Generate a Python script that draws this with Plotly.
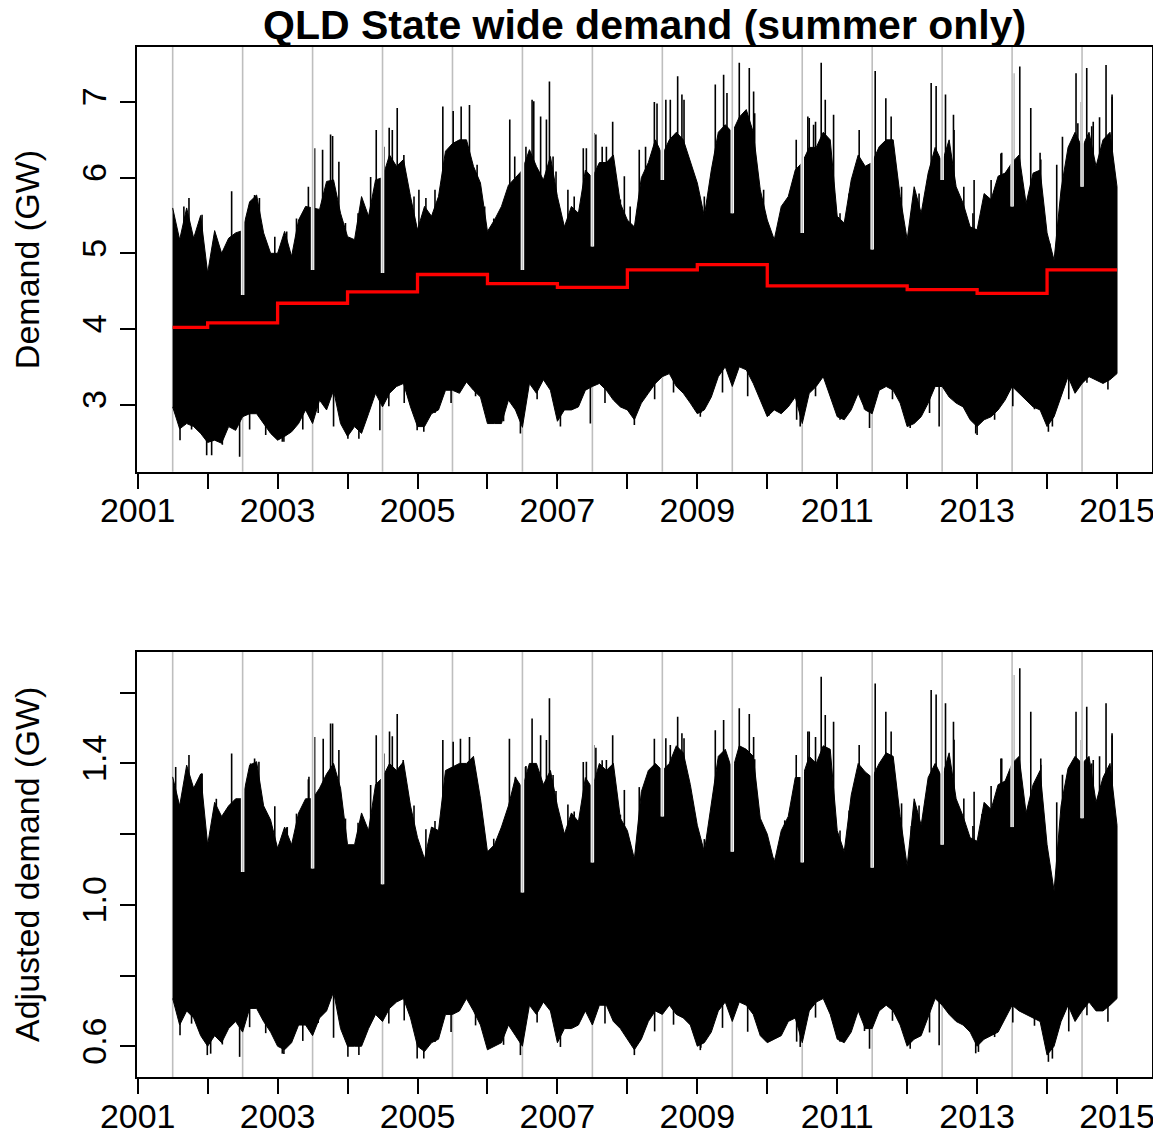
import plotly.graph_objects as go

# ---------------- data ----------------
sample_t = [
    2001.5, 2001.6, 2001.7, 2001.8, 2001.9,
    2002.0, 2002.1, 2002.2, 2002.3, 2002.4, 2002.5, 2002.6, 2002.7, 2002.8, 2002.9,
    2003.0, 2003.1, 2003.2, 2003.3, 2003.4, 2003.5, 2003.6, 2003.7, 2003.8, 2003.9,
    2004.0, 2004.1, 2004.2, 2004.3, 2004.4, 2004.5, 2004.6, 2004.7, 2004.8, 2004.9,
    2005.0, 2005.1, 2005.2, 2005.3, 2005.4, 2005.5, 2005.6, 2005.7, 2005.8, 2005.9,
    2006.0, 2006.1, 2006.2, 2006.3, 2006.4, 2006.5, 2006.6, 2006.7, 2006.8, 2006.9,
    2007.0, 2007.1, 2007.2, 2007.3, 2007.4, 2007.5, 2007.6, 2007.7, 2007.8, 2007.9,
    2008.0, 2008.1, 2008.2, 2008.3, 2008.4, 2008.5, 2008.6, 2008.7, 2008.8, 2008.9,
    2009.0, 2009.1, 2009.2, 2009.3, 2009.4, 2009.5, 2009.6, 2009.7, 2009.8, 2009.9,
    2010.0, 2010.1, 2010.2, 2010.3, 2010.4, 2010.5, 2010.6, 2010.7, 2010.8, 2010.9,
    2011.0, 2011.1, 2011.2, 2011.3, 2011.4, 2011.5, 2011.6, 2011.7, 2011.8, 2011.9,
    2012.0, 2012.1, 2012.2, 2012.3, 2012.4, 2012.5, 2012.6, 2012.7, 2012.8, 2012.9,
    2013.0, 2013.1, 2013.2, 2013.3, 2013.4, 2013.5, 2013.6, 2013.7, 2013.8, 2013.9,
    2014.0, 2014.1, 2014.2, 2014.3, 2014.4, 2014.5, 2014.6, 2014.7, 2014.8, 2014.9,
    2015.0,
]

# Demand (GW): upper / lower edge of the dense half-hourly series
demand_hi = [
    5.60, 5.18, 5.60, 5.20, 5.50,
    4.74, 5.30, 5.00, 5.20, 5.27, 5.30, 5.68, 5.77, 5.27, 5.00,
    5.00, 5.29, 4.96, 5.44, 5.62, 5.60, 5.58, 5.95, 5.97, 5.53,
    5.22, 5.18, 5.75, 5.49, 5.97, 6.00, 6.30, 6.15, 6.24, 5.75,
    5.31, 5.62, 5.49, 5.75, 6.35, 6.45, 6.50, 6.50, 6.15, 5.93,
    5.29, 5.44, 5.62, 5.90, 6.00, 6.10, 6.37, 6.15, 5.97, 6.28,
    5.75, 5.35, 5.62, 5.53, 6.10, 6.00, 6.20, 6.20, 6.30, 5.66,
    5.44, 5.35, 6.00, 6.20, 6.50, 6.30, 6.50, 6.60, 6.50, 6.20,
    5.93, 5.49, 6.10, 6.60, 6.70, 6.60, 6.80, 6.90, 6.60, 5.84,
    5.44, 5.18, 5.62, 5.75, 6.10, 6.20, 6.40, 6.40, 6.60, 6.50,
    5.49, 5.40, 5.97, 6.30, 6.15, 6.20, 6.41, 6.50, 6.50, 5.75,
    5.18, 5.88, 5.53, 6.06, 6.40, 6.20, 6.50, 5.88, 5.66, 5.35,
    5.31, 5.79, 5.71, 6.02, 6.06, 6.20, 6.30, 5.66, 6.06, 6.10,
    5.27, 4.91, 5.84, 6.40, 6.60, 6.40, 6.60, 6.15, 6.50, 6.60,
    5.88,
]
demand_lo = [
    2.97, 2.68, 2.75, 2.71, 2.62,
    2.50, 2.53, 2.49, 2.71, 2.66, 2.84, 2.88, 2.88, 2.75, 2.62,
    2.53, 2.58, 2.64, 2.75, 2.93, 2.75, 3.06, 2.93, 3.19, 2.75,
    2.58, 2.71, 2.62, 2.88, 3.15, 2.97, 3.15, 3.24, 3.28, 2.97,
    2.71, 2.71, 2.88, 2.93, 3.19, 3.19, 3.15, 3.30, 3.19, 3.10,
    2.75, 2.75, 2.75, 3.06, 2.93, 2.70, 3.28, 3.15, 3.33, 3.19,
    2.78, 2.93, 2.93, 2.97, 3.19, 3.24, 3.28, 3.19, 3.06, 2.97,
    2.93, 2.80, 3.02, 3.15, 3.28, 3.37, 3.41, 3.24, 3.15, 3.02,
    2.88, 2.93, 3.10, 3.37, 3.50, 3.24, 3.50, 3.46, 3.28, 3.06,
    2.84, 2.93, 2.88, 2.97, 3.10, 2.75, 3.15, 3.24, 3.37, 3.10,
    2.84, 2.80, 2.93, 3.15, 2.93, 2.88, 3.19, 3.24, 3.19, 3.02,
    2.71, 2.75, 2.84, 3.02, 3.24, 3.24, 3.10, 3.02, 2.97, 2.80,
    2.71, 2.80, 2.84, 2.93, 3.06, 3.24, 3.15, 3.06, 2.97, 2.93,
    2.71, 2.84, 3.10, 3.37, 3.15, 3.28, 3.37, 3.33, 3.28, 3.33,
    3.41,
]
# individual daily peaks sticking out above the dense band
demand_peak_t = [
    2001.66, 2001.733, 2002.343, 2002.614, 2002.671, 2003.529, 2003.643, 2003.757,
    2003.786, 2003.876, 2004.41, 2004.595, 2004.71, 2004.805, 2005.02, 2005.362,
    2005.51, 2005.624, 2005.743, 2005.852,
    2006.319, 2006.39, 2006.543, 2006.638, 2006.662, 2006.843, 2006.886, 2006.938,
    2007.414, 2007.519, 2007.7, 2007.79, 2007.957, 2008.386, 2008.424, 2008.614,
    2008.719, 2008.78, 2009.257, 2009.376, 2009.424, 2009.6, 2009.743, 2009.805,
    2009.948, 2010.414, 2010.6, 2010.662, 2010.771, 2010.829, 2010.948,
    2011.314, 2011.543, 2011.695, 2011.771, 2012.343, 2012.414, 2012.548, 2012.662,
    2012.957, 2013.352, 2013.519, 2013.61, 2013.767, 2013.9, 2014.138, 2014.414,
    2014.486, 2014.567, 2014.638, 2014.843, 2014.929,
    2001.92, 2002.10, 2002.74, 2002.96, 2003.13, 2003.27, 2003.44, 2003.97,
    2004.15, 2004.33, 2004.52, 2004.64, 2004.95, 2005.12, 2005.25, 2005.96,
    2006.09, 2006.23, 2006.55, 2006.76, 2006.98, 2007.15, 2007.24, 2007.37,
    2007.55, 2007.64, 2007.90, 2008.04, 2008.17, 2008.26, 2008.55, 2008.81,
    2008.92, 2009.10, 2009.82, 2010.09, 2010.25, 2010.58, 2010.69, 2011.04,
    2011.17, 2011.92, 2012.06, 2012.17, 2012.67, 2012.81, 2012.94, 2013.07,
    2013.20, 2013.34, 2013.43, 2013.91, 2014.04, 2014.22, 2014.44, 2014.66,
    2014.75, 2014.93,
]
demand_peak_v = [
    5.62, 5.73, 5.82, 5.69, 5.77, 6.39, 6.37, 6.57,
    6.55, 6.21, 6.63, 6.66, 6.92, 6.30, 5.84, 6.94,
    6.88, 6.94, 6.96, 6.17,
    6.77, 6.28, 6.21, 7.03, 7.01, 6.77, 7.27, 6.28,
    6.39, 6.59, 6.41, 6.74, 6.02, 7.00, 6.98, 7.03,
    7.34, 7.10, 7.23, 7.36, 7.12, 7.52, 7.45, 7.14,
    5.84, 6.50, 6.79, 6.70, 7.52, 7.03, 6.83,
    6.63, 7.41, 7.05, 6.81, 7.25, 7.21, 7.10, 6.83,
    5.97, 6.33, 7.38, 7.47, 6.92, 6.33, 6.17, 7.38,
    7.00, 7.45, 6.68, 7.49, 7.10,
    5.51, 5.18, 5.73, 5.22, 5.29, 5.46, 5.88, 5.40,
    5.53, 6.01, 6.41, 6.63, 5.75, 5.73, 5.84, 5.62,
    5.46, 5.57, 6.41, 6.81, 6.08, 5.84, 5.75, 6.39,
    6.57, 6.41, 5.71, 5.62, 6.37, 6.41, 7.03, 7.03,
    5.97, 5.75, 6.85, 5.18, 5.66, 6.81, 6.74, 5.53,
    5.79, 5.88, 5.53, 5.79, 6.63, 5.88, 5.53, 5.62,
    5.97, 6.32, 5.75, 6.24, 5.13, 6.54, 6.72, 6.74,
    6.80, 7.07,
]
# individual daily minima sticking out below the dense band
demand_dip_t = [
    2001.605, 2001.986, 2002.057, 2002.457, 2003.067, 2004.005, 2004.162, 2004.462,
    2004.995, 2005.09, 2006.471, 2007.043, 2007.471, 2008.1, 2009.043, 2010.471,
    2011.462, 2012.043, 2012.457, 2013.0, 2014.019, 2014.076,
    2001.77, 2002.21, 2002.60, 2002.83, 2003.09, 2003.36, 2003.58, 2003.80,
    2004.24, 2004.59, 2004.81, 2005.25, 2005.48, 2005.83, 2006.23, 2006.71,
    2007.33, 2007.68, 2008.39, 2008.66, 2009.05, 2009.36, 2009.72, 2010.02,
    2010.42, 2010.69, 2011.04, 2011.39, 2011.79, 2012.32, 2012.98, 2013.25,
    2013.51, 2013.82, 2014.31, 2014.57, 2014.87,
]
demand_dip_v = [
    2.53, 2.33, 2.33, 2.31, 2.51, 2.55, 2.55, 2.66,
    2.66, 2.64, 2.62, 2.71, 2.75, 2.73, 2.84, 2.71,
    2.69, 2.69, 2.71, 2.60, 2.64, 2.71,
    2.67, 2.47, 2.67, 2.60, 2.51, 2.67, 2.89, 2.71,
    2.80, 2.98, 3.02, 2.89, 3.02, 3.11, 2.78, 3.07,
    3.07, 3.02, 3.07, 3.16, 2.89, 3.16, 3.11, 2.85,
    2.80, 3.11, 2.80, 2.94, 3.07, 2.89, 2.62, 2.80,
    2.98, 2.94, 3.07, 3.29, 3.20,
]
# narrow gaps in the band where the series crosses a season boundary
notch_t = [2002.5, 2003.5, 2004.5, 2006.5, 2007.5, 2008.5,
           2009.5, 2010.5, 2011.5, 2012.5, 2013.5, 2014.5]
demand_notch_v = [4.45, 4.78, 4.74, 4.78, 5.09, 5.97,
                  5.53, 5.27, 5.05, 5.97, 5.62, 5.88]

# Annual mean demand (red step line), one value per interval between breaks
mean_breaks = [2001.5, 2002, 2003, 2004, 2005, 2006, 2007, 2008,
               2009, 2010, 2011, 2012, 2013, 2014, 2015]
mean_demand = [4.02, 4.08, 4.34, 4.49, 4.72, 4.60, 4.55,
               4.78, 4.85, 4.57, 4.57, 4.52, 4.47, 4.78]

# Adjusted demand (GW)
adj_hi = [
    1.362, 1.28, 1.395, 1.33, 1.37,
    1.17, 1.29, 1.25, 1.28, 1.30, 1.30, 1.395, 1.405, 1.28, 1.24,
    1.16, 1.22, 1.17, 1.26, 1.30, 1.30, 1.33, 1.37, 1.40, 1.33,
    1.17, 1.17, 1.26, 1.21, 1.34, 1.36, 1.40, 1.38, 1.405, 1.28,
    1.19, 1.13, 1.22, 1.21, 1.38, 1.39, 1.40, 1.40, 1.42, 1.30,
    1.15, 1.17, 1.22, 1.28, 1.36, 1.33, 1.40, 1.40, 1.34, 1.38,
    1.28, 1.20, 1.26, 1.235, 1.36, 1.33, 1.40, 1.38, 1.40, 1.245,
    1.21, 1.13, 1.32, 1.38, 1.40, 1.38, 1.40, 1.45, 1.43, 1.34,
    1.225, 1.15, 1.28, 1.42, 1.44, 1.38, 1.45, 1.44, 1.42, 1.245,
    1.20, 1.12, 1.21, 1.25, 1.36, 1.36, 1.42, 1.40, 1.45, 1.44,
    1.21, 1.15, 1.31, 1.40, 1.376, 1.36, 1.40, 1.43, 1.42, 1.25,
    1.11, 1.30, 1.225, 1.36, 1.40, 1.36, 1.43, 1.30, 1.25, 1.19,
    1.18, 1.29, 1.27, 1.34, 1.35, 1.40, 1.42, 1.26, 1.34, 1.38,
    1.17, 1.04, 1.28, 1.386, 1.42, 1.40, 1.42, 1.29, 1.36, 1.40,
    1.225,
]
adj_lo = [
    0.735, 0.66, 0.70, 0.68, 0.63,
    0.60, 0.63, 0.61, 0.65, 0.67, 0.64, 0.707, 0.707, 0.67, 0.64,
    0.60, 0.59, 0.61, 0.66, 0.66, 0.63, 0.68, 0.70, 0.754, 0.65,
    0.60, 0.60, 0.60, 0.65, 0.69, 0.67, 0.707, 0.725, 0.735, 0.68,
    0.60, 0.585, 0.61, 0.62, 0.69, 0.69, 0.70, 0.735, 0.70, 0.66,
    0.59, 0.60, 0.61, 0.66, 0.63, 0.60, 0.716, 0.69, 0.725, 0.70,
    0.61, 0.65, 0.65, 0.66, 0.70, 0.66, 0.716, 0.716, 0.67, 0.65,
    0.62, 0.59, 0.62, 0.67, 0.70, 0.69, 0.716, 0.69, 0.68, 0.66,
    0.60, 0.61, 0.64, 0.70, 0.725, 0.67, 0.725, 0.716, 0.69, 0.63,
    0.61, 0.62, 0.63, 0.67, 0.68, 0.61, 0.70, 0.725, 0.735, 0.69,
    0.62, 0.61, 0.64, 0.70, 0.65, 0.65, 0.70, 0.716, 0.70, 0.66,
    0.60, 0.62, 0.63, 0.68, 0.735, 0.716, 0.69, 0.67, 0.66, 0.64,
    0.60, 0.62, 0.63, 0.64, 0.68, 0.716, 0.70, 0.69, 0.68, 0.67,
    0.575, 0.60, 0.67, 0.716, 0.67, 0.70, 0.725, 0.70, 0.70, 0.716,
    0.735,
]
adj_peak_t = [
    2001.543, 2001.733, 2001.914, 2002.124, 2002.343, 2002.614, 2002.671, 2002.733,
    2003.138, 2003.448, 2003.529, 2003.652, 2003.757, 2003.786, 2003.876, 2004.41,
    2004.6, 2004.71, 2004.795, 2005.362, 2005.51, 2005.614, 2005.743, 2005.862,
    2006.314, 2006.4, 2006.543, 2006.638, 2006.843, 2006.886, 2006.938, 2007.414,
    2007.519, 2007.7, 2007.79, 2007.957, 2008.386, 2008.614, 2008.719, 2008.78,
    2009.257, 2009.376, 2009.6, 2009.743, 2009.805, 2010.414, 2010.6, 2010.771,
    2010.829, 2010.948,
    2011.314, 2011.543, 2011.695, 2011.771, 2012.343, 2012.414, 2012.548, 2012.662,
    2012.957, 2013.352, 2013.519, 2013.61, 2013.767, 2013.91, 2014.138, 2014.414,
    2014.486, 2014.567, 2014.638, 2014.843, 2014.929,
    2001.92, 2002.10, 2002.96, 2003.13, 2003.27, 2003.44, 2003.97,
    2004.15, 2004.33, 2004.52, 2004.64, 2004.95, 2005.12, 2005.25, 2005.96,
    2006.09, 2006.23, 2006.55, 2006.76, 2006.98, 2007.15, 2007.24, 2007.37,
    2007.55, 2007.64, 2007.90, 2008.04, 2008.17, 2008.26, 2008.55, 2008.81,
    2008.92, 2009.10, 2009.82, 2010.09, 2010.25, 2010.58, 2010.69, 2011.04,
    2011.17, 2011.92, 2012.06, 2012.17, 2012.67, 2012.81, 2012.94, 2013.07,
    2013.20, 2013.34, 2013.43, 2013.91, 2014.04, 2014.22, 2014.44, 2014.66,
    2014.75, 2014.93,
]
adj_peak_v = [
    1.39, 1.424, 1.372, 1.30, 1.428, 1.40, 1.414, 1.405,
    1.22, 1.362, 1.475, 1.47, 1.513, 1.513, 1.438, 1.48,
    1.49, 1.54, 1.41, 1.466, 1.461, 1.47, 1.475, 1.31,
    1.47, 1.362, 1.39, 1.527, 1.466, 1.584, 1.367, 1.405,
    1.452, 1.41, 1.48, 1.325, 1.47, 1.452, 1.532, 1.485,
    1.494, 1.523, 1.556, 1.54, 1.475, 1.424, 1.49, 1.645,
    1.537, 1.518,
    1.452, 1.626, 1.546, 1.49, 1.608, 1.595, 1.57, 1.518,
    1.32, 1.414, 1.65, 1.669, 1.546, 1.414, 1.29, 1.546,
    1.466, 1.56, 1.40, 1.57, 1.485,
    1.371, 1.270, 1.279, 1.219, 1.258, 1.355, 1.244,
    1.232, 1.339, 1.428, 1.477, 1.281, 1.214, 1.237, 1.191,
    1.187, 1.211, 1.393, 1.480, 1.322, 1.284, 1.264, 1.404,
    1.444, 1.409, 1.255, 1.176, 1.333, 1.341, 1.471, 1.471,
    1.249, 1.186, 1.412, 1.133, 1.239, 1.490, 1.475, 1.210,
    1.267, 1.287, 1.223, 1.281, 1.467, 1.301, 1.223, 1.257,
    1.336, 1.414, 1.286, 1.396, 1.073, 1.368, 1.406, 1.410,
    1.420, 1.479,
]
adj_dip_t = [
    2001.605, 2001.995, 2002.043, 2002.457, 2003.067, 2004.005, 2004.162, 2004.995,
    2005.09, 2006.471, 2007.043, 2008.1, 2009.043, 2010.471, 2011.462, 2012.043,
    2012.457, 2013.019, 2014.019, 2014.076,
    2001.77, 2002.21, 2002.60, 2002.83, 2003.09, 2003.36, 2003.58, 2003.80,
    2004.24, 2004.59, 2004.81, 2005.25, 2005.48, 2005.83, 2006.23, 2006.71,
    2007.33, 2007.68, 2008.39, 2008.66, 2009.05, 2009.36, 2009.72, 2010.02,
    2010.42, 2010.69, 2011.04, 2011.39, 2011.79, 2012.32, 2012.98, 2013.25,
    2013.51, 2013.82, 2014.31, 2014.57, 2014.87,
]
adj_dip_v = [
    0.631, 0.575, 0.579, 0.57, 0.579, 0.57, 0.575, 0.565,
    0.565, 0.575, 0.598, 0.575, 0.589, 0.598, 0.593, 0.593,
    0.603, 0.584, 0.556, 0.565,
    0.664, 0.605, 0.654, 0.637, 0.578, 0.615, 0.666, 0.624,
    0.624, 0.664, 0.673, 0.612, 0.640, 0.659, 0.604, 0.667,
    0.675, 0.664, 0.642, 0.661, 0.596, 0.652, 0.641, 0.624,
    0.613, 0.681, 0.613, 0.643, 0.672, 0.639, 0.580, 0.626,
    0.667, 0.658, 0.642, 0.688, 0.669,
]
adj_notch_v = [1.093, 1.103, 1.058, 1.035, 1.12, 1.25,
               1.15, 1.12, 1.105, 1.17, 1.22, 1.245]

season_breaks = [2001.5, 2002.5, 2003.5, 2004.5, 2005.5, 2006.5, 2007.5,
                 2008.5, 2009.5, 2010.5, 2011.5, 2012.5, 2013.5, 2014.5]

year_ticks = list(range(2001, 2016))
year_labels = [str(y) if y % 2 == 1 else "" for y in year_ticks]
demand_ticks = [3, 4, 5, 6, 7]
adj_ticks = [0.6, 0.8, 1.0, 1.2, 1.4, 1.6]
adj_labels = ["0.6", "", "1.0", "", "1.4", ""]

# ---------------- figure ----------------
FONT = "Liberation Sans, Arial, Helvetica, sans-serif"
GREY = "#bebebe"
fig = go.Figure()


def add_band(t, hi, lo, xa, ya):
    fig.add_trace(go.Scatter(
        x=t + t[::-1], y=hi + lo[::-1], mode="lines", fill="toself",
        fillcolor="black", line=dict(color="black", width=1),
        xaxis=xa, yaxis=ya, hoverinfo="skip", showlegend=False))


def add_segments(ts, vs, base, xa, ya, color="black", width=1.6):
    xs, ys = [], []
    for t, v in zip(ts, vs):
        xs += [t, t, None]
        ys += [base, v, None]
    fig.add_trace(go.Scatter(
        x=xs, y=ys, mode="lines", line=dict(color=color, width=width),
        xaxis=xa, yaxis=ya, hoverinfo="skip", showlegend=False))


# top panel
add_band(sample_t, demand_hi, demand_lo, "x", "y")
add_segments(demand_peak_t, demand_peak_v, 4.2, "x", "y")
add_segments(demand_dip_t, demand_dip_v, 4.2, "x", "y")
add_segments(notch_t, demand_notch_v, 7.727, "x", "y", color="white", width=3.5)
add_segments(notch_t, demand_notch_v, 7.727, "x", "y", color=GREY, width=1.6)
fig.add_trace(go.Scatter(
    x=mean_breaks, y=mean_demand + [mean_demand[-1]], mode="lines",
    line=dict(color="#ff0000", width=3.3, shape="hv"),
    xaxis="x", yaxis="y", hoverinfo="skip", showlegend=False))

# bottom panel
add_band(sample_t, adj_hi, adj_lo, "x2", "y2")
add_segments(adj_peak_t, adj_peak_v, 0.95, "x2", "y2")
add_segments(adj_dip_t, adj_dip_v, 0.95, "x2", "y2")
add_segments(notch_t, adj_notch_v, 1.716, "x2", "y2", color="white", width=3.5)
add_segments(notch_t, adj_notch_v, 1.716, "x2", "y2", color=GREY, width=1.6)

shapes = []
for b in season_breaks:
    for xr, yr in (("x", "y domain"), ("x2", "y2 domain")):
        shapes.append(dict(type="line", xref=xr, yref=yr, x0=b, x1=b, y0=0, y1=1,
                           line=dict(color=GREY, width=1.6), layer="below"))

axis_common = dict(
    showline=True, linecolor="black", linewidth=2, mirror=True,
    ticks="outside", ticklen=15, tickwidth=2, tickcolor="black",
    showgrid=False, zeroline=False, automargin=False,
    tickfont=dict(family=FONT, size=34, color="black"),
)

# the page body has an 8px default margin, so the margins compensate for it
fig.update_layout(
    width=1161, height=1133,
    margin=dict(l=129, r=17, t=39, b=64, autoexpand=False),
    paper_bgcolor="white", plot_bgcolor="white",
    shapes=shapes,
    xaxis=dict(domain=[0, 1], anchor="y", range=[2000.99, 2015.5],
               tickmode="array", tickvals=year_ticks, ticktext=year_labels,
               ticklabelstandoff=-7, **axis_common),
    yaxis=dict(domain=[0.5877, 1], anchor="x", range=[2.114, 7.727],
               tickmode="array", tickvals=demand_ticks,
               ticktext=[str(v) for v in demand_ticks], tickangle=-90,
               **axis_common),
    xaxis2=dict(domain=[0, 1], anchor="y2", range=[2000.99, 2015.5],
                tickmode="array", tickvals=year_ticks, ticktext=year_labels,
                ticklabelstandoff=-7, **axis_common),
    yaxis2=dict(domain=[0, 0.4129], anchor="x2", range=[0.513, 1.716],
                tickmode="array", tickvals=adj_ticks, ticktext=adj_labels,
                tickangle=-90, **axis_common),
    annotations=[
        dict(text="<b>QLD State wide demand (summer only)</b>", xref="paper",
             yref="paper", x=0.5, y=1.0, xanchor="center", yanchor="bottom",
             yshift=-3, showarrow=False,
             font=dict(family=FONT, size=41, color="black")),
        dict(text="Demand (GW)", xref="paper", yref="paper", x=-0.1084,
             y=0.794, xanchor="center", yanchor="middle", textangle=-90,
             showarrow=False, font=dict(family=FONT, size=34, color="black")),
        dict(text="Adjusted demand (GW)", xref="paper", yref="paper",
             x=-0.1084, y=0.2068, xanchor="center", yanchor="middle",
             textangle=-90, showarrow=False,
             font=dict(family=FONT, size=34, color="black")),
    ],
)

fig.write_html("out.html")
